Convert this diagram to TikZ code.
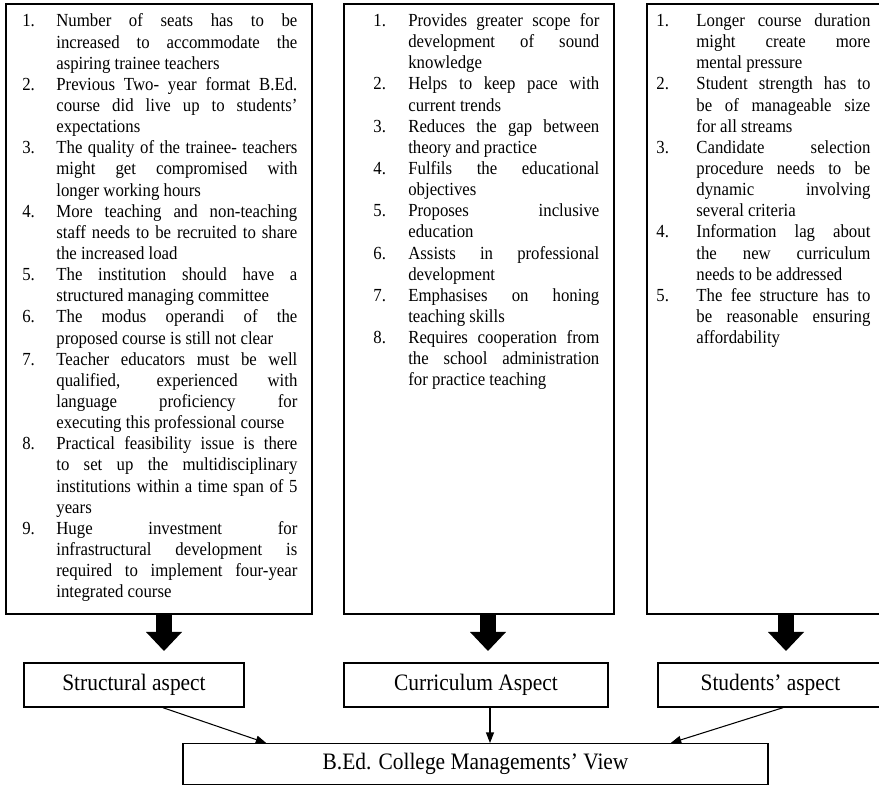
\documentclass[tikz,border=0pt]{standalone}
\usepackage{fontspec}
\setmainfont{Liberation Serif}[FakeStretch=0.91, WordSpace={1,1,2}]
\usepackage{tikz}
\usetikzlibrary{arrows.meta}
\tolerance=10000
\hbadness=10000
\hyphenpenalty=10000
\exhyphenpenalty=10000
\newlength{\itemind}
\newcommand{\pitem}[2]{\noindent\hangindent=\itemind\hangafter=1\makebox[\itemind][l]{#1}#2\par}

\begin{document}
\begin{tikzpicture}[scale=0.2]
              \tikzstyle{every node}+=[inner sep=0pt]
              \tikzstyle{bigbox}=[draw=black, line width=0.8pt, minimum height=12.2cm]
              \tikzstyle{listtext}=[anchor=base west, align=justify, font=\fontsize{10.5}{12.03}\selectfont]
              \tikzstyle{aspect}=[draw=black, line width=0.8pt, minimum height=0.88cm, font=\fontsize{13.4}{15}\selectfont]
              \tikzstyle{thinarrow}=[black, line width=0.6pt, -{Triangle[width=4.5pt,length=6pt]}]
              \useasboundingbox (0,0) rectangle (87.9,-78.8);
              \node (lbox) [bigbox, minimum width=6.12cm] at (15.9,-30.9) {};
              \node (mbox) [bigbox, minimum width=5.4cm] at (47.9,-30.9) {};
              \node (rbox) [bigbox, minimum width=4.96cm] at (77.1,-30.9) {};
              \node (ltext) [listtext, text width=156.5pt] at (2.2,-2.7) {\setlength{\itemind}{19.35pt}%
                \pitem{1.}{Number of seats has to be\linebreak increased to accommodate the\linebreak aspiring trainee teachers}%
                \pitem{2.}{Previous Two- year format B.Ed.\linebreak course did live up to students'\linebreak expectations}%
                \pitem{3.}{The quality of the trainee- teachers\linebreak might get compromised with\linebreak longer working hours}%
                \pitem{4.}{More teaching and non-teaching\linebreak staff needs to be recruited to share\linebreak the increased load}%
                \pitem{5.}{The institution should have a\linebreak structured managing committee}%
                \pitem{6.}{The modus operandi of the\linebreak proposed course is still not clear}%
                \pitem{7.}{Teacher educators must be well\linebreak qualified, experienced with\linebreak language proficiency for\linebreak executing this professional course}%
                \pitem{8.}{Practical feasibility issue is there\linebreak to set up the multidisciplinary\linebreak institutions within a time span of 5\linebreak years}%
                \pitem{9.}{Huge investment for\linebreak infrastructural development is\linebreak required to implement four-year\linebreak integrated course}};
              \node (mtext) [listtext, text width=128.6pt] at (37.3,-2.65) {\setlength{\itemind}{19.9pt}%
                \pitem{1.}{Provides greater scope for\linebreak development of sound\linebreak knowledge}%
                \pitem{2.}{Helps to keep pace with\linebreak current trends}%
                \pitem{3.}{Reduces the gap between\linebreak theory and practice}%
                \pitem{4.}{Fulfils the educational\linebreak objectives}%
                \pitem{5.}{Proposes inclusive\linebreak education}%
                \pitem{6.}{Assists in professional\linebreak development}%
                \pitem{7.}{Emphasises on honing\linebreak teaching skills}%
                \pitem{8.}{Requires cooperation from\linebreak the school administration\linebreak for practice teaching}};
              \node (rtext) [listtext, text width=121.8pt] at (65.6,-2.65) {\setlength{\itemind}{22.8pt}%
                \pitem{1.}{Longer course duration\linebreak might create more\linebreak mental pressure}%
                \pitem{2.}{Student strength has to\linebreak be of manageable size\linebreak for all streams}%
                \pitem{3.}{Candidate selection\linebreak procedure needs to be\linebreak dynamic involving\linebreak several criteria}%
                \pitem{4.}{Information lag about\linebreak the new curriculum\linebreak needs to be addressed}%
                \pitem{5.}{The fee structure has to\linebreak be reasonable ensuring\linebreak affordability}};
              \coordinate (lout) at (16.4,-61.4);
              \coordinate (lmid) at (16.4,-63.2);
              \coordinate (ltip) at (16.4,-65.1);
              \coordinate (mout) at (48.8,-61.4);
              \coordinate (mmid) at (48.8,-63.2);
              \coordinate (mtip) at (48.8,-65.1);
              \coordinate (rout) at (78.6,-61.4);
              \coordinate (rmid) at (78.6,-63.2);
              \coordinate (rtip) at (78.6,-65.1);
              \foreach \a in {l,m,r} {
                \draw [black, line width=9.1pt] (\a out) -- ([yshift=-0.2cm]\a mid);
                \fill [black] ([xshift=-1.8cm]\a mid) -- ([xshift=1.8cm]\a mid) -- (\a tip) -- cycle;
              }
              \node (sa) [aspect, minimum width=4.4cm] at (13.4,-68.5) {Structural aspect};
              \node (ca) [aspect, minimum width=5.28cm] at (47.6,-68.5) {Curriculum Aspect};
              \node (sta) [aspect, minimum width=4.5cm] at (77.05,-68.5) {Students' aspect};
              \node (view) [aspect, minimum width=11.7cm, minimum height=0.81cm] at (47.55,-76.4) {B.Ed. College Managements' View};
              \draw [thinarrow] ([xshift=2.9cm]sa.south) -- ([xshift=8.4cm]view.north west);
              \draw [thinarrow] ([xshift=1.4cm]ca.south) -- ([xshift=1.45cm]view.north);
              \draw [thinarrow] ([xshift=1.25cm]sta.south) -- ([xshift=-9.8cm]view.north east);
            \end{tikzpicture}
\end{document}
